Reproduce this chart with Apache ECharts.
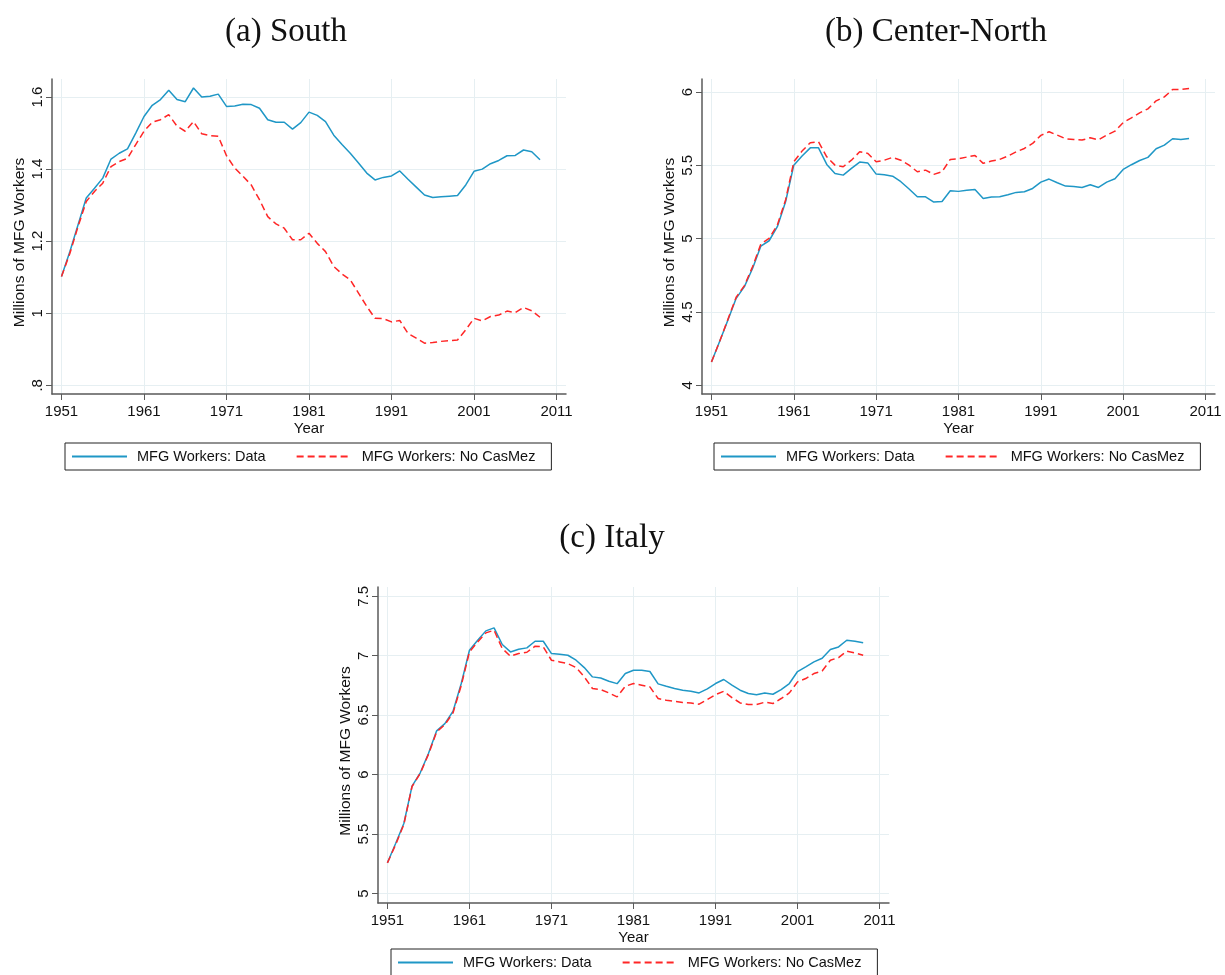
<!DOCTYPE html>
<html>
<head>
<meta charset="utf-8">
<script src="https://cdn.jsdelivr.net/npm/echarts@6/dist/echarts.min.js"></script>
<style>
  html, body { margin: 0; padding: 0; background: #fff; }
  #chart { width: 1225px; height: 975px; }
</style>
</head>
<body>
<div id="chart"></div>
<script>
// Years covered by every series
const years = [1951,1952,1953,1954,1955,1956,1957,1958,1959,1960,
  1961,1962,1963,1964,1965,1966,1967,1968,1969,1970,
  1971,1972,1973,1974,1975,1976,1977,1978,1979,1980,
  1981,1982,1983,1984,1985,1986,1987,1988,1989,1990,
  1991,1992,1993,1994,1995,1996,1997,1998,1999,2000,
  2001,2002,2003,2004,2005,2006,2007,2008,2009];

// (a) South, millions of manufacturing workers
const southData = [1.102,1.17,1.245,1.32,1.347,1.375,1.428,1.444,1.456,1.50,
  1.546,1.577,1.593,1.619,1.593,1.587,1.625,1.60,1.602,1.608,
  1.574,1.575,1.58,1.579,1.569,1.537,1.53,1.53,1.511,1.529,
  1.558,1.549,1.532,1.494,1.468,1.444,1.417,1.389,1.37,1.377,
  1.381,1.395,1.372,1.35,1.328,1.321,1.323,1.325,1.327,1.356,
  1.394,1.40,1.415,1.424,1.437,1.438,1.453,1.448,1.426];
const southNoCasMez = [1.102,1.165,1.24,1.31,1.338,1.361,1.407,1.421,1.43,1.468,
  1.505,1.53,1.537,1.551,1.519,1.505,1.532,1.498,1.493,1.491,
  1.437,1.403,1.38,1.356,1.315,1.268,1.248,1.236,1.204,1.204,
  1.222,1.194,1.171,1.13,1.109,1.093,1.056,1.019,0.986,0.985,
  0.976,0.98,0.944,0.931,0.917,0.919,0.922,0.924,0.926,0.954,
  0.986,0.979,0.991,0.995,1.006,1.002,1.016,1.007,0.989];

// (b) Center-North
const northData = [4.159,4.30,4.445,4.593,4.673,4.798,4.95,4.986,5.082,5.252,
  5.502,5.564,5.62,5.62,5.507,5.445,5.434,5.48,5.523,5.516,
  5.441,5.436,5.427,5.389,5.339,5.286,5.286,5.25,5.254,5.327,
  5.323,5.33,5.336,5.275,5.284,5.286,5.30,5.316,5.32,5.343,
  5.386,5.407,5.382,5.359,5.357,5.35,5.368,5.35,5.386,5.409,
  5.473,5.505,5.534,5.555,5.614,5.639,5.682,5.677,5.684];
const northNoCasMez = [4.159,4.30,4.45,4.60,4.68,4.81,4.964,5.002,5.093,5.264,
  5.525,5.598,5.655,5.661,5.559,5.502,5.491,5.536,5.593,5.582,
  5.525,5.536,5.555,5.536,5.502,5.457,5.468,5.439,5.457,5.541,
  5.545,5.557,5.568,5.514,5.53,5.541,5.564,5.593,5.616,5.65,
  5.705,5.73,5.707,5.682,5.677,5.673,5.689,5.675,5.707,5.734,
  5.793,5.825,5.859,5.886,5.941,5.968,6.018,6.018,6.025];

// (c) Italy
const italyData = [5.258,5.42,5.589,5.903,6.015,6.177,6.368,6.429,6.533,6.766,
  7.046,7.13,7.209,7.234,7.094,7.032,7.054,7.066,7.122,7.122,
  7.018,7.012,7.004,6.962,6.90,6.822,6.813,6.785,6.765,6.85,
  6.878,6.878,6.867,6.763,6.743,6.724,6.71,6.701,6.687,6.721,
  6.766,6.80,6.752,6.71,6.682,6.671,6.687,6.676,6.715,6.766,
  6.867,6.906,6.948,6.979,7.052,7.074,7.13,7.122,7.11];
const italyNoCasMez = [5.258,5.41,5.58,5.90,6.01,6.17,6.36,6.42,6.52,6.75,
  7.032,7.116,7.192,7.214,7.06,6.996,7.018,7.029,7.08,7.074,
  6.962,6.948,6.934,6.90,6.822,6.724,6.715,6.687,6.654,6.743,
  6.766,6.752,6.738,6.64,6.626,6.617,6.606,6.603,6.592,6.631,
  6.673,6.701,6.648,6.603,6.589,6.589,6.609,6.598,6.64,6.687,
  6.78,6.808,6.85,6.872,6.962,6.984,7.038,7.024,7.004];

// Axis ticks and their labels
const xTicks = [1951,1961,1971,1981,1991,2001,2011];
const yTicksSouth = [0.8,1,1.2,1.4,1.6];
const yLabelsSouth = ['.8','1','1.2','1.4','1.6'];
const yTicksNorth = [4,4.5,5,5.5,6];
const yLabelsNorth = ['4','4.5','5','5.5','6'];
const yTicksItaly = [5,5.5,6,6.5,7,7.5];
const yLabelsItaly = ['5','5.5','6','6.5','7','7.5'];

const panelTitles = ['(a) South', '(b) Center-North', '(c) Italy'];
const seriesNames = ['MFG Workers: Data', 'MFG Workers: No CasMez'];

const BLUE = '#1f97c6';
const RED = '#ff2626';
const GRID_COLOR = '#e6eff2';
const AXIS_COLOR = '#5a5a5a';
const TEXT_COLOR = '#111';
const SANS = 'Liberation Sans, Arial, sans-serif';
const SERIF = 'Liberation Serif, DejaVu Serif, serif';

const pair = vals => years.map((y, i) => [y, vals[i]]);

function xAxisFor(gridIndex) {
  return {
    type: 'value', gridIndex, min: 1949.85, max: 2012.15,
    name: 'Year', nameLocation: 'middle', nameGap: 27,
    nameTextStyle: { fontFamily: SANS, fontSize: 15, color: TEXT_COLOR },
    axisLine: { show: true, lineStyle: { color: AXIS_COLOR, width: 1.5 } },
    axisTick: { show: true, length: 6, customValues: xTicks, lineStyle: { color: AXIS_COLOR } },
    axisLabel: { customValues: xTicks, fontFamily: SANS, fontSize: 15, color: TEXT_COLOR, margin: 10,
      formatter: v => String(v) },
    splitLine: { show: true, lineStyle: { color: GRID_COLOR, width: 1 } }
  };
}
function yAxisFor(gridIndex, min, max, ticks, labels) {
  return {
    type: 'value', gridIndex, min, max,
    name: 'Millions of MFG Workers', nameLocation: 'middle', nameGap: 24,
    nameTextStyle: { fontFamily: SANS, fontSize: 15.5, color: TEXT_COLOR, padding: [0, 12, 0, 0] },
    axisLine: { show: true, lineStyle: { color: AXIS_COLOR, width: 1.5 } },
    axisTick: { show: true, length: 6, customValues: ticks, lineStyle: { color: AXIS_COLOR } },
    axisLabel: { customValues: ticks, rotate: 90, fontFamily: SANS, fontSize: 15, color: TEXT_COLOR, margin: 7,
      formatter: v => { const i = ticks.findIndex(t => Math.abs(t - v) < 1e-6); return i >= 0 ? labels[i] : ''; } },
    splitLine: { show: true, lineStyle: { color: GRID_COLOR, width: 1 } }
  };
}
function lineSeries(name, idx, vals, dashed) {
  return {
    name, type: 'line', xAxisIndex: idx, yAxisIndex: idx,
    data: pair(vals), symbol: 'none', animation: false,
    lineStyle: { color: dashed ? RED : BLUE, width: 1.5, type: dashed ? [7, 4] : 'solid' },
    itemStyle: { color: dashed ? RED : BLUE },
    z: dashed ? 3 : 2
  };
}
function legendFor(left, top) {
  return {
    data: seriesNames, left, top, orient: 'horizontal',
    itemWidth: 55, itemHeight: 12, itemGap: 30,
    padding: [6, 16, 6, 6],
    borderColor: '#222', borderWidth: 1,
    itemStyle: { opacity: 0 },
    textStyle: { fontFamily: SANS, fontSize: 14.5, color: TEXT_COLOR, padding: [0, 0, 0, 5] },
    selectedMode: false
  };
}

const titleStyle = { fontFamily: SERIF, fontSize: 33, fontWeight: 'normal', color: TEXT_COLOR };

const chart = echarts.init(document.getElementById('chart'), null, { renderer: 'canvas' });
chart.setOption({
  backgroundColor: '#fff',
  animation: false,
  title: [
    { text: panelTitles[0], left: 281, top: 11, textAlign: 'center', textStyle: titleStyle },
    { text: panelTitles[1], left: 931, top: 11, textAlign: 'center', textStyle: titleStyle },
    { text: panelTitles[2], left: 607, top: 517, textAlign: 'center', textStyle: titleStyle }
  ],
  grid: [
    { left: 52, top: 79, width: 514, height: 315 },
    { left: 702, top: 79, width: 513, height: 315 },
    { left: 378, top: 587, width: 511, height: 316 }
  ],
  xAxis: [xAxisFor(0), xAxisFor(1), xAxisFor(2)],
  yAxis: [
    yAxisFor(0, 0.776, 1.65, yTicksSouth, yLabelsSouth),
    yAxisFor(1, 3.94, 6.09, yTicksNorth, yLabelsNorth),
    yAxisFor(2, 4.92, 7.578, yTicksItaly, yLabelsItaly)
  ],
  legend: [legendFor(65, 443), legendFor(714, 443), legendFor(391, 949)],
  series: [
    lineSeries(seriesNames[0], 0, southData, false),
    lineSeries(seriesNames[1], 0, southNoCasMez, true),
    lineSeries(seriesNames[0], 1, northData, false),
    lineSeries(seriesNames[1], 1, northNoCasMez, true),
    lineSeries(seriesNames[0], 2, italyData, false),
    lineSeries(seriesNames[1], 2, italyNoCasMez, true)
  ]
});
</script>
</body>
</html>
